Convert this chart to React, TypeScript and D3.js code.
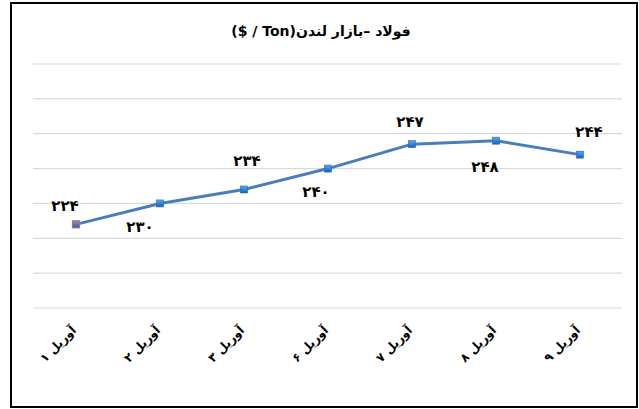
import React from "react";
import * as d3 from "d3";

// categories and values
const categories = ["آوریل ۱", "آوریل ۲", "آوریل ۳", "آوریل ۶", "آوریل ۷", "آوریل ۸", "آوریل ۹"];
const prices = [224, 230, 234, 240, 247, 248, 244];
const yTicks = [200, 210, 220, 230, 240, 250, 260, 270];
const title = "فولاد –بازار لندن(Ton / $)";

// hand placed data labels (dx, dy from the marker), like the original
const labelOffsets = [[-11, -13], [-20, 29], [3, -23], [-12, 28], [-2, -17], [-11, 31], [9, -18]];

const faDigits = "۰۱۲۳۴۵۶۷۸۹";
const toFa = (v: number) => String(v).replace(/\d/g, (d) => faDigits[+d]);

const W = 639, H = 409;
const font = "'DejaVu Sans', sans-serif";

export default function App() {
  const x = d3.scaleBand<string>().domain(categories).range([34, 622]);
  const y = d3.scaleLinear().domain([200, 270]).range([308, 64]);
  const cx = (i: number) => (x(categories[i]) as number) + x.bandwidth() / 2;

  const line = d3.line<number>()
    .x((d, i) => cx(i))
    .y((d) => y(d));

  return (
    <svg width={W} height={H} style={{ position: "absolute", left: 0, top: 0, background: "#fff" }}>
      <defs>
        <linearGradient id="mk" x1="0" y1="0" x2="0" y2="1">
          <stop offset="0" stopColor="#5aa7ef" />
          <stop offset="1" stopColor="#0b63c4" />
        </linearGradient>
      </defs>
      <rect x={11} y={3} width={626} height={404} fill="#fff" stroke="#000" strokeWidth={2} />

      <text x={321} y={36} textAnchor="middle" direction="rtl" fontFamily={font} fontWeight="bold" fontSize={14} fill="#000">
        {title}
      </text>

      {yTicks.map((t) => (
        <line key={t} x1={33} x2={622} y1={y(t)} y2={y(t)} stroke="#d9d9d9" strokeWidth={1.2} />
      ))}

      <path d={line(prices) as string} fill="none" stroke="#4a7ebb" strokeWidth={3} strokeLinejoin="round" />

      {prices.map((v, i) => (
        <rect key={i} x={cx(i) - 3.5} y={y(v) - 3.5} width={7} height={7}
          fill="url(#mk)" stroke={i === 0 ? "#d0605c" : "#2a66a8"} strokeWidth={i === 0 ? 1.2 : 0.6} />
      ))}

      {prices.map((v, i) => (
        <text key={i} x={cx(i) + labelOffsets[i][0]} y={y(v) + labelOffsets[i][1]} textAnchor="middle"
          fontFamily={font} fontWeight="bold" fontSize={15} fill="#000">
          {toFa(v)}
        </text>
      ))}

      {categories.map((c) => (
        <text key={c} transform={`translate(${(x(c) as number) + x.bandwidth() / 2 + 1},${331}) rotate(-45)`}
          textAnchor="end" fontFamily={font} fontWeight="bold" fontSize={12} fill="#000">
          {c}
        </text>
      ))}
    </svg>
  );
}
